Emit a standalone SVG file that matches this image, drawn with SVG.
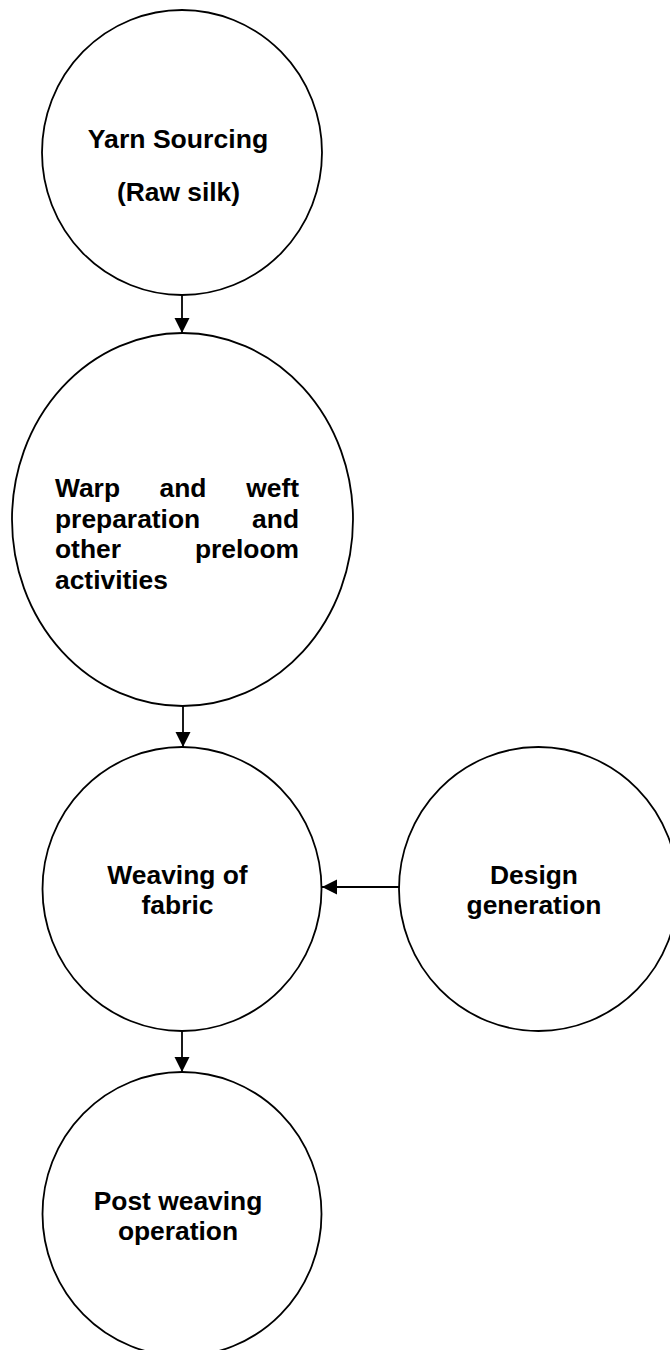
<svg xmlns="http://www.w3.org/2000/svg" width="670" height="1350" viewBox="0 0 670 1350">
<style>
.node{fill:#fff;stroke:#000;stroke-width:1.8}
.lbl{font-family:"Liberation Sans",Arial,sans-serif;font-weight:bold;font-size:26.4px;fill:#000}
.c{text-anchor:middle}
.e{text-anchor:end}
.conn{stroke:#000;stroke-width:1.8;fill:none}
</style>
<defs>
<marker id="ah" markerUnits="userSpaceOnUse" markerWidth="16" markerHeight="16" refX="15" refY="7.5" orient="auto">
<path d="M0,0 L15,7.5 L0,15 z" fill="#000"/>
</marker>
</defs>
<rect width="670" height="1350" fill="#fff"/>
<g id="connectors">
<line class="conn" x1="182" y1="295" x2="182" y2="333" marker-end="url(#ah)"/>
<line class="conn" x1="183" y1="706" x2="183" y2="747" marker-end="url(#ah)"/>
<line class="conn" x1="182" y1="1031" x2="182" y2="1072" marker-end="url(#ah)"/>
<line class="conn" x1="399" y1="887" x2="322" y2="887" marker-end="url(#ah)"/>
</g>
<g id="yarn">
<ellipse class="node" cx="182" cy="152.5" rx="140" ry="142.5"/>
<text class="lbl c" x="178" y="148" style="font-size:26.6px">Yarn Sourcing</text>
<text class="lbl c" x="178.5" y="201" style="font-size:26.4px">(Raw silk)</text>
</g>
<g id="warp">
<ellipse class="node" cx="182.5" cy="519.5" rx="170.5" ry="186.5"/>
<text class="lbl" x="55" y="497">Warp</text>
<text class="lbl c" x="183" y="497">and</text>
<text class="lbl e" x="299" y="497">weft</text>
<text class="lbl" x="55" y="527.5">preparation</text>
<text class="lbl e" x="299" y="527.5">and</text>
<text class="lbl" x="55" y="558">other</text>
<text class="lbl e" x="299" y="558">preloom</text>
<text class="lbl" x="55" y="588.5">activities</text>
</g>
<g id="weaving">
<ellipse class="node" cx="182" cy="889" rx="139.5" ry="142"/>
<text class="lbl c" x="177.5" y="884">Weaving of</text>
<text class="lbl c" x="177.5" y="914">fabric</text>
</g>
<g id="design">
<ellipse class="node" cx="538.5" cy="889" rx="139.5" ry="142"/>
<text class="lbl c" x="534" y="884">Design</text>
<text class="lbl c" x="534" y="914">generation</text>
</g>
<g id="post">
<ellipse class="node" cx="182" cy="1214" rx="139.5" ry="142"/>
<text class="lbl c" x="178" y="1210">Post weaving</text>
<text class="lbl c" x="178" y="1240">operation</text>
</g>
</svg>
